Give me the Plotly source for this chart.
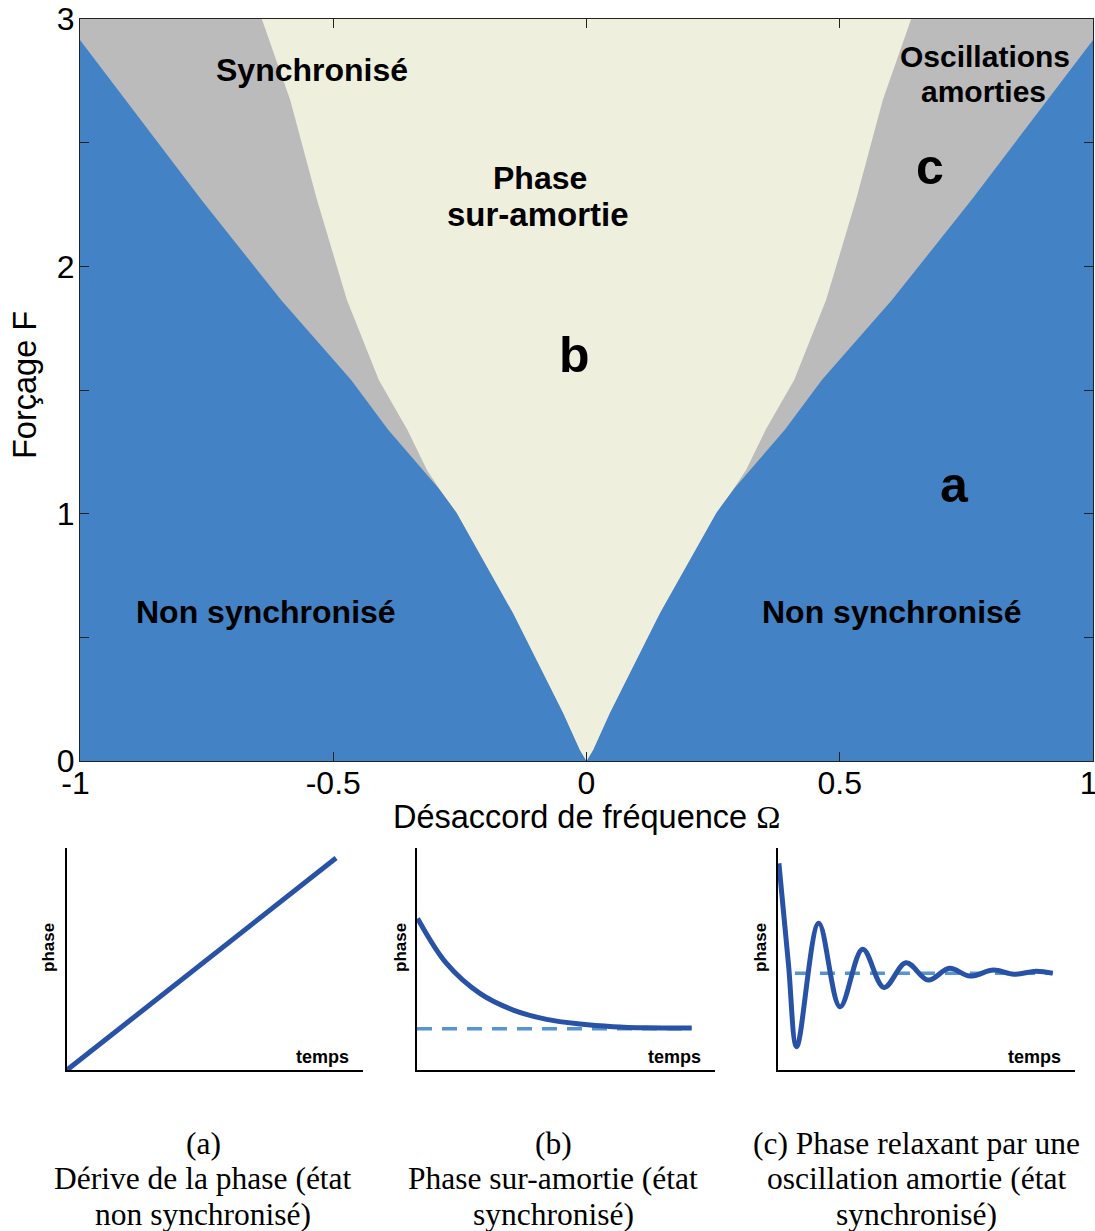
import plotly.graph_objects as go

# ---------------- data ----------------
# Main diagram: forcing F (y) vs detuning Omega (x); symmetric about Omega = 0
blue_F = [0.0, 0.044, 0.194, 0.598, 1.003, 1.096, 1.34, 1.541, 1.864, 2.268, 2.673, 2.915]
blue_Om = [0.0, 0.013, 0.046, 0.145, 0.256, 0.289, 0.392, 0.465, 0.603, 0.760, 0.910, 1.0]
merge_F = 1.096
cream_F = [1.096, 1.177, 1.34, 1.54, 1.864, 2.0, 2.268, 2.673, 3.0]
cream_Om = [0.289, 0.315, 0.354, 0.410, 0.473, 0.493, 0.532, 0.585, 0.641]
x_range = [-1, 1]
y_range = [0, 3]
x_ticks = [-1, -0.5, 0, 0.5, 1]
x_ticktext = ["-1&nbsp;", "-0.5", "0", "0.5", "1&nbsp;"]
y_ticks = [0, 0.5, 1, 1.5, 2, 2.5, 3]
y_ticktext = ["0", "", "1", "", "2", "", "3"]

# Small panel (a): phase drift
a_t = [0.0, 9.09]
a_phase = [0.0, 9.55]
# Small panel (b): over-damped phase
b_t = [0.02, 0.99, 2.11, 3.23, 4.35, 5.47, 6.58, 7.71, 9.22]
b_phase = [6.83, 4.80, 3.45, 2.70, 2.28, 2.07, 1.95, 1.90, 1.89]
b_eq_t = [0.0, 9.22]
b_eq = [1.86, 1.86]
# Small panel (c): damped oscillation
c_t = [0.03, 0.35, 0.63, 1.37, 2.09, 2.85, 3.57, 4.31, 5.06, 5.77, 6.46, 7.26, 7.94, 8.69, 9.25]
c_phase = [9.31, 4.8, 1.05, 6.61, 2.85, 5.44, 3.72, 4.83, 4.05, 4.58, 4.23, 4.50, 4.31, 4.45, 4.36]
c_eq_t = [0.57, 9.25]
c_eq = [4.36, 4.36]

BLUE = "rgb(67,130,197)"
GREY = "rgb(187,187,187)"
CREAM = "rgb(239,239,222)"
CURVE = "rgb(40,82,166)"
DASH = "rgb(86,148,212)"

fig = go.Figure()

# --- main regions ---
fig.add_trace(go.Scatter(
    x=[x_range[0], x_range[1], x_range[1], x_range[0]],
    y=[y_range[0], y_range[0], y_range[1], y_range[1]],
    fill="toself", fillcolor=BLUE, mode="lines", line=dict(width=0),
    hoverinfo="skip", showlegend=False, xaxis="x", yaxis="y"))

gx = list(blue_Om) + [x_range[1], x_range[0]] + [-v for v in reversed(blue_Om)]
gy = list(blue_F) + [y_range[1], y_range[1]] + list(reversed(blue_F))
fig.add_trace(go.Scatter(
    x=gx, y=gy, fill="toself", fillcolor=GREY, mode="lines", line=dict(width=0),
    hoverinfo="skip", showlegend=False, xaxis="x", yaxis="y"))

low_Om = [o for o, f in zip(blue_Om, blue_F) if f < merge_F]
low_F = [f for f in blue_F if f < merge_F]
cx = low_Om + list(cream_Om) + [-v for v in reversed(cream_Om)] + [-v for v in reversed(low_Om)]
cy = low_F + list(cream_F) + list(reversed(cream_F)) + list(reversed(low_F))
fig.add_trace(go.Scatter(
    x=cx, y=cy, fill="toself", fillcolor=CREAM, mode="lines", line=dict(width=0),
    hoverinfo="skip", showlegend=False, xaxis="x", yaxis="y"))

# --- small panels ---
fig.add_trace(go.Scatter(x=a_t, y=a_phase, mode="lines",
                         line=dict(color=CURVE, width=5), showlegend=False,
                         xaxis="x2", yaxis="y2"))
fig.add_trace(go.Scatter(x=b_eq_t, y=b_eq, mode="lines",
                         line=dict(color=DASH, width=3.5, dash="15px,10px"),
                         showlegend=False, xaxis="x3", yaxis="y3"))
fig.add_trace(go.Scatter(x=b_t, y=b_phase, mode="lines", line_shape="spline",
                         line=dict(color=CURVE, width=5), showlegend=False,
                         xaxis="x3", yaxis="y3"))
fig.add_trace(go.Scatter(x=c_eq_t, y=c_eq, mode="lines",
                         line=dict(color=DASH, width=3.5, dash="15px,10px"),
                         showlegend=False, xaxis="x4", yaxis="y4"))
fig.add_trace(go.Scatter(x=c_t, y=c_phase, mode="lines", line_shape="spline",
                         line=dict(color=CURVE, width=5), showlegend=False,
                         xaxis="x4", yaxis="y4"))

W, H = 1095, 1231
def px(x):
    return x / W
def py(y):
    return 1 - y / H

SANS = "Liberation Sans, Arial, sans-serif"
SERIF = "Liberation Serif, Times New Roman, serif"

main_axis_common = dict(showgrid=False, zeroline=False, showline=True, mirror="ticks",
                        linecolor="#222", linewidth=1, ticks="inside", ticklen=9,
                        tickcolor="#222", tickwidth=1, automargin=False,
                        ticklabeloverflow="allow",
                        tickfont=dict(family=SANS, size=32, color="black"))

small_axis = dict(showgrid=False, zeroline=False, showline=True, mirror=False,
                  linecolor="black", linewidth=2, ticks="", showticklabels=False,
                  range=[0, 10], fixedrange=True, automargin=False)

fig.update_layout(
    template="none",
    width=W, height=H, autosize=False,
    margin=dict(l=0, r=0, t=0, b=0, autoexpand=False),
    paper_bgcolor="white", plot_bgcolor="rgba(0,0,0,0)",
    showlegend=False,
    xaxis=dict(domain=[px(80), px(1093)], range=x_range, tickvals=x_ticks,
               ticktext=x_ticktext, anchor="y", ticklabelstandoff=-6,
               **main_axis_common),
    yaxis=dict(domain=[py(761), py(19)], range=y_range, tickvals=y_ticks,
               ticktext=y_ticktext, anchor="x", ticklabelstandoff=-2,
               **main_axis_common),
    xaxis2=dict(domain=[px(67), px(363)], anchor="y2", **small_axis),
    yaxis2=dict(domain=[py(1070), py(848)], anchor="x2", **small_axis),
    xaxis3=dict(domain=[px(417), px(715)], anchor="y3", **small_axis),
    yaxis3=dict(domain=[py(1070), py(848)], anchor="x3", **small_axis),
    xaxis4=dict(domain=[px(778), px(1075)], anchor="y4", **small_axis),
    yaxis4=dict(domain=[py(1070), py(848)], anchor="x4", **small_axis),
)

ann = []
def lab(text, x, y, size=32, bold=True, ref="x", yref="y", family=SANS, angle=0):
    ann.append(dict(text=("<b>%s</b>" % text) if bold else text, x=x, y=y,
                    xref=ref, yref=yref, showarrow=False, textangle=angle,
                    xanchor="center", yanchor="middle",
                    font=dict(family=family, size=size, color="black")))

# in-plot labels
lab("Synchronisé", -0.542, 2.794)
lab("Oscillations", 0.787, 2.847, size=30)
lab("amorties", 0.783, 2.705, size=30)
lab("c", 0.678, 2.402, size=50)
lab("Phase", -0.092, 2.357)
lab("sur-amortie", -0.096, 2.208, size=33)
lab("b", -0.023, 1.642, size=50)
lab("a", 0.727, 1.116, size=50)
lab("Non synchronisé", -0.633, 0.602)
lab("Non synchronisé", 0.603, 0.602)

# axis titles
lab('Désaccord de fréquence <span style="font-family:Liberation Serif">Ω</span>',
    px(586), py(817), size=32.5, bold=False, ref="paper", yref="paper")
lab("Forçage F", px(25), py(385), size=32.5, bold=False, ref="paper", yref="paper", angle=-90)

# small panel labels
for xp in (48, 400, 760):
    lab("phase", px(xp), py(948), size=17, ref="paper", yref="paper", angle=-90)
for xp in (323, 674, 1034):
    lab("temps", px(xp), py(1057), size=18, ref="paper", yref="paper")

# captions
captions = [
    (203, ["(a)", "Dérive de la phase (état", "non synchronisé)"]),
    (553, ["(b)", "Phase sur-amortie (état", "synchronisé)"]),
    (916, ["(c) Phase relaxant par une", "oscillation amortie (état", "synchronisé)"]),
]
for xc, lines in captions:
    for i, t in enumerate(lines):
        lab(t, px(xc), py(1143 + 35.5 * i), size=31.5, bold=False, ref="paper",
            yref="paper", family=SERIF)

fig.update_layout(annotations=ann)

post = """
document.documentElement.style.margin='0';
document.documentElement.style.overflow='hidden';
document.body.style.margin='0';
document.body.style.overflow='hidden';
var gd = document.getElementById('{plot_id}');
Plotly.relayout(gd, {width: %d, height: %d});
""" % (W, H)

fig.write_html("out.html", post_script=post, config={"displayModeBar": False})
